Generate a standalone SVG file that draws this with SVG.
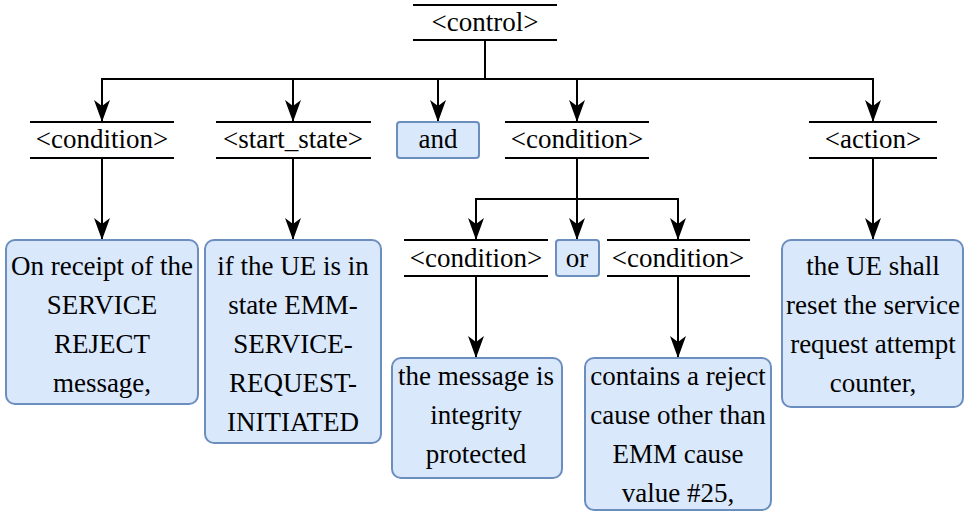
<svg xmlns="http://www.w3.org/2000/svg" width="966" height="512" viewBox="0 0 966 512" font-family="Liberation Serif, Times New Roman, serif">
  <style>
    .hdr line { stroke: #000; stroke-width: 2; }
    .box { fill: #dae8fc; stroke: #6c8ebf; stroke-width: 2; }
    text { font-size: 27px; fill: #000; text-anchor: middle; }
    .conn path { fill: none; stroke: #000; stroke-width: 2; marker-end: url(#arrow); }
  </style>
  <defs>
    <marker id="arrow" viewBox="0 0 22 16" refX="22" refY="8" markerWidth="22" markerHeight="16" markerUnits="userSpaceOnUse" orient="auto">
      <path d="M22,8 L0,0 L6,8 L0,16 Z" fill="#000"/>
    </marker>
  </defs>
  <rect width="966" height="512" fill="#fff"/>

  <!-- connectors -->
  <g id="connectors" class="conn">
    <path d="M485,40 V79 H102 V122"/>
    <path d="M485,40 V79 H293 V122"/>
    <path d="M485,40 V79 H438 V122"/>
    <path d="M485,40 V79 H577 V122"/>
    <path d="M485,40 V79 H873 V122"/>
    <path d="M102,158 V240"/>
    <path d="M293,158 V240"/>
    <path d="M577,158 V199 H476 V240"/>
    <path d="M577,158 V240"/>
    <path d="M577,158 V199 H678 V240"/>
    <path d="M873,158 V240"/>
    <path d="M476,276 V358"/>
    <path d="M678,276 V358"/>
  </g>

  <!-- header nodes -->
  <g id="control" class="hdr">
    <line x1="413" y1="5" x2="557" y2="5"/>
    <line x1="413" y1="40" x2="557" y2="40"/>
    <text x="485" y="31" font-family="Liberation Serif, serif">&lt;control&gt;</text>
  </g>
  <g id="condition1" class="hdr">
    <line x1="30" y1="122" x2="174" y2="122"/>
    <line x1="30" y1="158" x2="174" y2="158"/>
    <text x="102" y="148">&lt;condition&gt;</text>
  </g>
  <g id="start_state" class="hdr">
    <line x1="216" y1="122" x2="371" y2="122"/>
    <line x1="216" y1="158" x2="371" y2="158"/>
    <text x="293" y="148">&lt;start_state&gt;</text>
  </g>
  <g id="and">
    <rect class="box" x="397" y="122" width="82" height="36" rx="3"/>
    <text x="438" y="148">and</text>
  </g>
  <g id="condition2" class="hdr">
    <line x1="505" y1="122" x2="649" y2="122"/>
    <line x1="505" y1="158" x2="649" y2="158"/>
    <text x="577" y="148">&lt;condition&gt;</text>
  </g>
  <g id="action" class="hdr">
    <line x1="809" y1="122" x2="937" y2="122"/>
    <line x1="809" y1="158" x2="937" y2="158"/>
    <text x="873" y="148">&lt;action&gt;</text>
  </g>
  <g id="condition2a" class="hdr">
    <line x1="404" y1="240" x2="548" y2="240"/>
    <line x1="404" y1="276" x2="548" y2="276"/>
    <text x="476" y="267">&lt;condition&gt;</text>
  </g>
  <g id="or">
    <rect class="box" x="556" y="240" width="43" height="36" rx="3"/>
    <text x="577" y="267">or</text>
  </g>
  <g id="condition2b" class="hdr">
    <line x1="607" y1="240" x2="750" y2="240"/>
    <line x1="607" y1="276" x2="750" y2="276"/>
    <text x="678" y="267">&lt;condition&gt;</text>
  </g>

  <!-- content nodes -->
  <g id="receipt">
    <rect class="box" x="6" y="240" width="192" height="164" rx="9"/>
    <text x="102" y="275">On receipt of the</text>
    <text x="102" y="314">SERVICE</text>
    <text x="102" y="353">REJECT</text>
    <text x="102" y="392">message,</text>
  </g>
  <g id="state">
    <rect class="box" x="205" y="240" width="176" height="203" rx="9"/>
    <text x="293" y="275">if the UE is in</text>
    <text x="293" y="314">state EMM-</text>
    <text x="293" y="353">SERVICE-</text>
    <text x="293" y="392">REQUEST-</text>
    <text x="293" y="431">INITIATED</text>
  </g>
  <g id="integrity">
    <rect class="box" x="392" y="358" width="170" height="120" rx="9"/>
    <text x="476" y="385">the message is</text>
    <text x="476" y="424">integrity</text>
    <text x="476" y="463">protected</text>
  </g>
  <g id="cause">
    <rect class="box" x="585" y="358" width="186" height="152" rx="9"/>
    <text x="678" y="385">contains a reject</text>
    <text x="678" y="424">cause other than</text>
    <text x="678" y="463">EMM cause</text>
    <text x="678" y="502">value #25,</text>
  </g>
  <g id="reset">
    <rect class="box" x="782" y="240" width="181" height="167" rx="9"/>
    <text x="873" y="275">the UE shall</text>
    <text x="873" y="314">reset the service</text>
    <text x="873" y="353">request attempt</text>
    <text x="873" y="392">counter,</text>
  </g>
</svg>
